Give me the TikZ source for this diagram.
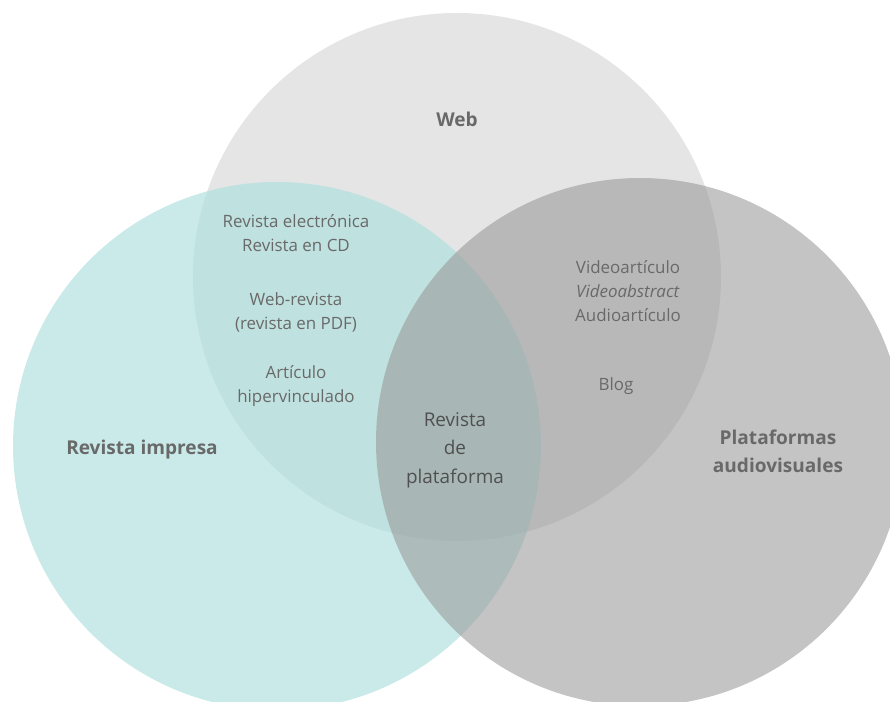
\documentclass[tikz,border=0pt]{standalone}
\usepackage{fontspec}
\setmainfont{Open Sans}
\definecolor{gweb}{RGB}{229,229,229}
\definecolor{gteal}{RGB}{172,223,221}
\definecolor{ggris}{RGB}{153,153,153}
\definecolor{gtexto}{RGB}{105,105,105}
\definecolor{gcentro}{RGB}{80,80,80}
\begin{document}
\begin{tikzpicture}[
    x=0.75pt, y=-0.75pt,
    circulo/.style={circle, minimum size=396pt, inner sep=0pt},
    item/.style={font=\fontsize{12.7}{18}\selectfont, text=gtexto, align=center},
    titulo/.style={font=\fontsize{14.3}{21}\selectfont\bfseries, text=gtexto, align=center}
]
  \useasboundingbox (0,0) rectangle (890,702);
  \clip (0,0) rectangle (890,702);

  % Circulos
  \node[circulo, fill=gweb] (web) at (457,277) {};
  \node[circulo, fill=gteal, fill opacity=0.65] (impresa) at (277,446) {};
  \node[circulo, fill=ggris, fill opacity=0.58] (plataformas) at (640,442) {};

  % Titulos
  \node[titulo] (lweb) at (457,119) {Web};
  \node[titulo] (limpresa) at (142,450) {Revista impresa};
  \node[titulo] (lplataformas) at (778,451) {Plataformas\\audiovisuales};

  % Web + Revista impresa
  \node[item] (elec) at (296,233) {Revista electrónica\\Revista en CD};
  \node[item] (webrev) at (296,312) {Web-revista\\(revista en PDF)};
  \node[item] (artic) at (296,386) {Artículo\\hipervinculado};

  % Web + Plataformas
  \node[item] (video) at (628,291) {Videoartículo\\\textit{Videoabstract}\\Audioartículo};
  \node[item] (blog) at (616,386) {Blog};

  % Centro
  \node[font=\fontsize{14.2}{21.4}\selectfont, text=gcentro, align=center] (centro) at (455,450) {Revista\\de\\plataforma};

\end{tikzpicture}
\end{document}
